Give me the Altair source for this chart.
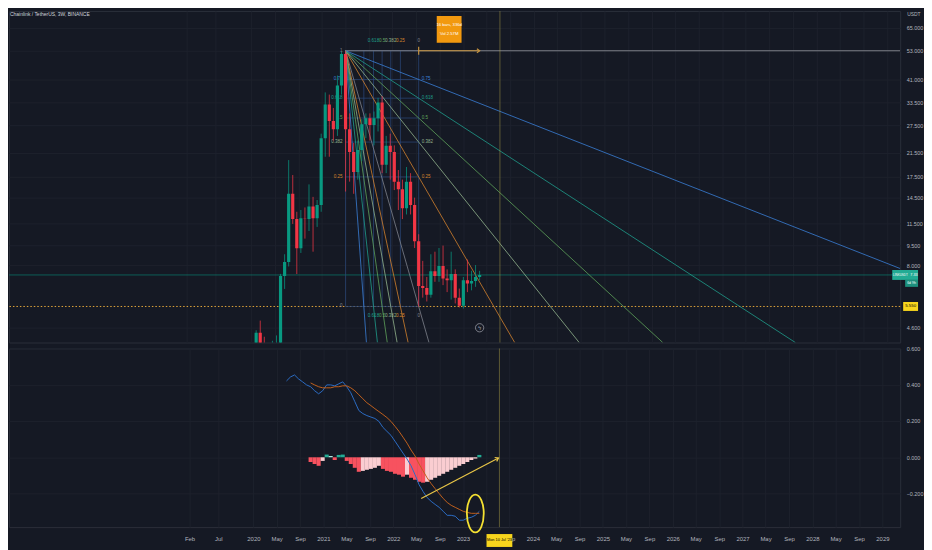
import math
import altair as alt
import pandas as pd

# ---------------- chart values ----------------
symbol_title = "Chainlink / TetherUS, 3W, BINANCE"
currency_label = "USDT"
ticker_label = "LINKUSDT"
countdown_label = "6d 9h"
last_bar = "2023-03-27"
bar_days = 21

opens = [2.30, 4.40, 3.90, 2.30, 3.40, 3.90, 4.00, 7.26, 8.21, 15.0, 12.0, 9.27, 12.1, 12.0, 13.4, 12.1,
         13.6, 24.5, 33.0, 28.5, 26.5, 39.0, 51.5, 26.5, 21.7, 18.2, 22.1, 27.7, 29.2, 27.5, 29.2, 33.6,
         19.4, 22.9, 21.7, 16.7, 15.6, 13.2, 16.7, 13.6, 9.86, 6.65, 6.53, 6.15, 7.58, 7.26, 7.93, 7.1,
         7.0, 7.39, 6.0, 5.58, 7.0, 6.8, 6.95, 7.2]
highs = [4.50, 4.90, 4.25, 3.60, 4.10, 4.30, 7.40, 8.80, 20.2, 17.7, 12.8, 13.0, 13.3, 16.3, 14.6, 14.2,
         25.5, 36.7, 36.0, 32.0, 42.6, 52.6, 53.0, 30.5, 23.5, 24.0, 29.0, 30.5, 30.5, 31.0, 35.0, 35.5,
         25.0, 25.5, 23.0, 18.5, 17.0, 19.0, 18.0, 14.5, 10.5, 8.3, 7.2, 8.8, 9.0, 9.3, 9.5, 7.7,
         9.0, 7.7, 6.5, 7.2, 8.4, 7.6, 8.0, 7.6]
lows = [2.20, 3.50, 1.50, 2.10, 3.20, 3.60, 3.90, 6.48, 7.90, 11.5, 7.39, 8.9, 10.1, 10.8, 9.0, 11.2,
        12.8, 20.8, 20.8, 24.0, 25.0, 36.0, 15.3, 16.7, 15.0, 17.0, 20.0, 24.5, 24.0, 23.0, 26.0, 18.0,
        18.0, 17.0, 15.5, 13.0, 12.0, 12.5, 12.5, 9.3, 5.55, 6.0, 5.8, 6.0, 6.9, 6.9, 6.7, 6.3,
        5.9, 5.7, 5.5, 5.45, 6.3, 6.4, 6.6, 7.0]
closes = [4.40, 3.90, 2.30, 3.40, 3.90, 4.00, 7.26, 8.21, 15.0, 12.0, 9.27, 12.1, 12.05, 13.4, 12.1, 13.6,
          24.5, 33.0, 28.5, 26.5, 39.0, 51.5, 26.5, 21.7, 18.2, 22.1, 27.7, 29.2, 27.5, 29.2, 33.6, 19.4,
          22.9, 21.7, 16.7, 15.6, 13.2, 16.7, 13.6, 9.86, 6.65, 6.53, 6.15, 7.58, 7.26, 7.93, 7.1, 7.0,
          7.39, 6.0, 5.58, 7.0, 6.8, 6.95, 7.2, 7.33]

macd_line = [None] * 7 + [
    0.421, 0.443, 0.454, 0.432, 0.416, 0.399, 0.389, 0.367, 0.350, 0.367, 0.399, 0.399, 0.394, 0.405,
    0.416, 0.389, 0.356, 0.307, 0.258, 0.241, 0.230, 0.222, 0.214, 0.198, 0.165, 0.143, 0.121, 0.089,
    0.056, 0.023, -0.009, -0.047, -0.096, -0.151, -0.189, -0.222, -0.243, -0.260, -0.276, -0.298,
    -0.320, -0.320, -0.325, -0.347, -0.347, -0.336, -0.331, -0.320, -0.298]
signal_line = [None] * 13 + [
    0.410, 0.399, 0.389, 0.383, 0.383, 0.383, 0.389, 0.389, 0.394, 0.394, 0.383, 0.367, 0.345, 0.323,
    0.301, 0.285, 0.268, 0.252, 0.236, 0.219, 0.198, 0.171, 0.143, 0.111, 0.078, 0.040, 0.007, -0.037,
    -0.075, -0.113, -0.145, -0.173, -0.200, -0.227, -0.249, -0.265, -0.276, -0.287, -0.298, -0.304,
    -0.309, -0.309, -0.309]
hist_values = [None] * 13 + [
    -0.026, -0.037, -0.047, -0.020, 0.015, 0.007, -0.015, 0.013, 0.015, -0.020, -0.037, -0.058, -0.080,
    -0.075, -0.069, -0.064, -0.058, -0.047, -0.064, -0.075, -0.080, -0.091, -0.096, -0.107, -0.096,
    -0.113, -0.124, -0.135, -0.140, -0.135, -0.124, -0.113, -0.102, -0.091, -0.080, -0.069, -0.058,
    -0.047, -0.037, -0.026, -0.015, -0.007, 0.013]

price_ticks = [4.6, 8.0, 9.5, 11.5, 14.5, 17.5, 21.5, 27.5, 33.5, 41.0, 53.0, 65.0]
macd_ticks = [-0.4, -0.2, 0.0, 0.2, 0.4, 0.6]
time_ticks = ["2019-02-01", "2019-07-01"] + [f"{y}-{m}-01" for y in range(2020, 2030) for m in ("01", "05", "09")]
hidden_time_label = "2023-05-01"   # covered by the crosshair date label

fib_levels = [0.25, 0.382, 0.5, 0.618, 0.75]
fib_names = ["0.25", "0.382", "0.5", "0.618", "0.75"]
fan_low_bars_from_end = 15

last_price = 7.33
icon_price = 4.6
marker_date = "2023-07-10"
marker_text = "Mon 10 Jul '23"
range_texts = ["16 bars, 336d", "Vol 2.57M"]
range_box_price = 64.0
arrow_start = ("2022-05-27", -0.227)
arrow_end = ("2023-07-05", -0.004)
ellipse_value = -0.31

# ---------------- style / layout ----------------
FONT = "Liberation Sans Narrow, Liberation Sans, Arial, sans-serif"
BG = "#151924"
GRID = "#1d212c"
TXT = "#b2b5be"
UP = "#089981"
DN = "#f23645"
W, H_TOP, H_MACD = 898, 334, 180
PX_PER_DAY = 71.2 / 365.25
PX_PER_LN = 114.2
MACD_DOMAIN = [-0.385, 0.6]
MACD_PX = H_MACD / (MACD_DOMAIN[1] - MACD_DOMAIN[0])


def ms(ts):
    return int(pd.Timestamp(ts).value // 10**6)


def days(a, b):
    return (pd.Timestamp(b) - pd.Timestamp(a)).total_seconds() / 86400.0


def rect_path(w, h):
    r = max(w, h) / 2.0
    a, b = w / 2.0 / r, h / 2.0 / r
    return f"M{-a:.4f},{-b:.4f}H{a:.4f}V{b:.4f}H{-a:.4f}Z", (2 * r) ** 2


def ellipse_path(rx, ry):
    r = max(rx, ry)
    a, b = rx / r, ry / r
    return f"M{-a:.4f},0A{a:.4f},{b:.4f} 0 1,0 {a:.4f},0A{a:.4f},{b:.4f} 0 1,0 {-a:.4f},0Z", (2 * r) ** 2


n = len(opens)
bar_dates = [pd.Timestamp(last_bar) - pd.Timedelta(days=bar_days * (n - 1 - i)) for i in range(n)]

x0 = pd.Timestamp("2020-01-01") - pd.Timedelta(days=244 / PX_PER_DAY)
x1 = x0 + pd.Timedelta(days=W / PX_PER_DAY)
X_DOMAIN = [ms(x0), ms(x1)]
P_MAX = 53.0 * math.exp(40 / PX_PER_LN)
P_MIN = 53.0 * math.exp((40 - H_TOP) / PX_PER_LN)

tick_vals = [ms(t) for t in time_ticks if pd.Timestamp(t) <= x1]
hidden_ms = ms(hidden_time_label)

xs = alt.Scale(type="utc", domain=X_DOMAIN, nice=False)
ys = alt.Scale(type="log", domain=[P_MIN, P_MAX], nice=False)
ms_scale = alt.Scale(domain=MACD_DOMAIN, nice=False, zero=False)

X_AX_TOP = alt.Axis(values=tick_vals, labels=False, ticks=False, domain=False, grid=True,
                    gridColor=GRID, title=None)
X_AX_BOT = alt.Axis(values=tick_vals, ticks=False, domain=False, grid=True, gridColor=GRID, title=None,
                    labelExpr=(f"+datum.value == {hidden_ms} ? '' : "
                               "(utcFormat(datum.value, '%m') == '01' ? utcFormat(datum.value, '%Y') "
                               ": utcFormat(datum.value, '%b'))"),
                    labelColor=TXT, labelFontSize=6, labelPadding=9, labelFont=FONT)
Y_AX_PRICE = alt.Axis(orient="right", values=price_ticks, format=".3f", grid=True, gridColor=GRID,
                      ticks=False, domain=False, labelColor=TXT, labelFontSize=5.5, labelPadding=6,
                      labelFont=FONT, title=None)
Y_AX_MACD = alt.Axis(orient="right", values=macd_ticks, format=".3f", grid=True, gridColor=GRID,
                     ticks=False, domain=False, labelColor=TXT, labelFontSize=5.5, labelPadding=6,
                     labelFont=FONT, title=None)


def tx(f):
    return alt.X(f, type="temporal", scale=xs, axis=X_AX_TOP)


def ty(f):
    return alt.Y(f, type="quantitative", scale=ys, axis=Y_AX_PRICE)


def bx(f):
    return alt.X(f, type="temporal", scale=xs, axis=X_AX_BOT)


def by(f):
    return alt.Y(f, type="quantitative", scale=ms_scale, axis=Y_AX_MACD)


# ---------------- candles ----------------
cdf = pd.DataFrame({
    "date": [ms(d) for d in bar_dates], "open": opens, "high": highs, "low": lows, "close": closes,
})
cdf["dir"] = ["up" if c >= o else "down" for o, c in zip(opens, closes)]
dir_color = alt.Color("dir:N", scale=alt.Scale(domain=["up", "down"], range=[UP, DN]), legend=None)

wicks = alt.Chart(cdf).mark_rule(clip=True, strokeWidth=1, opacity=0.75).encode(
    x=tx("date"), y=ty("low"), y2="high", color=dir_color)
bodies = alt.Chart(cdf).mark_rule(clip=True, strokeWidth=3.2).encode(
    x=tx("date"), y=ty("open"), y2="close", color=dir_color)
candles = alt.layer(wicks, bodies)

# ---------------- fib speed fan ----------------
i_hi = highs.index(max(highs))
i_lo = n - 1 - fan_low_bars_from_end
t0, p_hi = bar_dates[i_hi], highs[i_hi]
t1, p_lo = bar_dates[i_lo], lows[i_lo]
span = days(t0, t1)
lnh, lnl, lnmin = math.log(p_hi), math.log(p_lo), math.log(P_MIN)
d_max = days(t0, x1)

lvl_domain = ["0", "0.25", "0.382", "0.5", "0.618", "0.75", "1"]
lvl_range = ["#80838d", "#d4822d", "#93b38e", "#5fa35b", "#1f9e8c", "#3a7fd8", "#80838d"]
lvl_color = alt.Color("lvl:N", scale=alt.Scale(domain=lvl_domain, range=lvl_range), legend=None)

fan_rows = []
for name, f in zip(["0"] + fib_names, [0.0] + fib_levels):
    pf = p_lo + f * (p_hi - p_lo)
    slope = (math.log(pf) - lnh) / span
    d_end = min((lnmin - lnh) / slope, d_max)
    fan_rows.append(dict(ta=ms(t0), pa=p_hi, tb=ms(t0 + pd.Timedelta(days=d_end)),
                         pb=math.exp(lnh + slope * d_end), lvl=name))
for name, f in zip(fib_names, fib_levels):
    tf = span * (1 - f)
    slope = (lnl - lnh) / tf
    d_end = min((lnmin - lnh) / slope, d_max)
    fan_rows.append(dict(ta=ms(t0), pa=p_hi, tb=ms(t0 + pd.Timedelta(days=d_end)),
                         pb=math.exp(lnh + slope * d_end), lvl=name))
fan_df = pd.DataFrame(fan_rows)
fan_lines = alt.Chart(fan_df).mark_rule(clip=True, strokeWidth=1, opacity=0.8).encode(
    x=tx("ta"), x2="tb", y=ty("pa"), y2="pb", color=lvl_color)

all_f = [0.0] + fib_levels + [1.0]
all_names = ["0"] + fib_names + ["1"]
grid_rows = []
for f in all_f:
    pf = p_lo + f * (p_hi - p_lo)
    grid_rows.append(dict(ta=ms(t0), tb=ms(t1), pa=pf, pb=pf))
for f in all_f:
    tf = t0 + pd.Timedelta(days=span * (1 - f))
    grid_rows.append(dict(ta=ms(tf), tb=ms(tf), pa=p_lo, pb=p_hi))
fan_grid = alt.Chart(pd.DataFrame(grid_rows)).mark_rule(clip=True, strokeWidth=1, color="#2a4677",
                                                         opacity=0.75).encode(
    x=tx("ta"), x2="tb", y=ty("pa"), y2="pb")

left_lab = pd.DataFrame({"t": ms(t0), "p": [p_lo + f * (p_hi - p_lo) for f in all_f], "lvl": all_names})
right_lab = pd.DataFrame({"t": ms(t1), "p": [p_lo + f * (p_hi - p_lo) for f in fib_levels], "lvl": fib_names})
tl_f = [0.0, 0.25, 0.382, 0.5, 0.618]
tl_names = ["0", "0.25", "0.382", "0.5", "0.618"]
time_lab = pd.DataFrame({"t": [ms(t0 + pd.Timedelta(days=span * (1 - f))) for f in tl_f], "lvl": tl_names})
time_lab["phi"] = p_hi
time_lab["plo"] = p_lo

lab_kw = dict(fontSize=4.6, font=FONT, baseline="middle")
fan_lab_left = alt.Chart(left_lab).mark_text(align="right", dx=-3, **lab_kw).encode(
    x=tx("t"), y=ty("p"), text="lvl:N", color=lvl_color)
fan_lab_right = alt.Chart(right_lab).mark_text(align="left", dx=3, **lab_kw).encode(
    x=tx("t"), y=ty("p"), text="lvl:N", color=lvl_color)
fan_lab_top = alt.Chart(time_lab).mark_text(align="center", dy=-10, **lab_kw).encode(
    x=tx("t"), y=ty("phi"), text="lvl:N", color=lvl_color)
fan_lab_bot = alt.Chart(time_lab).mark_text(align="center", dy=10, **lab_kw).encode(
    x=tx("t"), y=ty("plo"), text="lvl:N", color=lvl_color)
fan = alt.layer(fan_lines, fan_lab_left, fan_lab_right, fan_lab_top, fan_lab_bot)

# ---------------- horizontal lines ----------------
price_line = alt.Chart(pd.DataFrame({"p": [last_price]})).mark_rule(
    color=UP, opacity=0.55, strokeWidth=1).encode(y=ty("p"))
support_line = alt.Chart(pd.DataFrame({"p": [p_lo]})).mark_rule(
    color="#e0a43a", strokeDash=[1.5, 2], strokeWidth=1).encode(y=ty("p"))
ath_line = alt.Chart(pd.DataFrame({"ta": [ms(t0)], "tb": [X_DOMAIN[1]], "p": [p_hi]})).mark_rule(
    color="#7d7f87", strokeWidth=1.2, clip=True).encode(x=tx("ta"), x2="tb", y=ty("p"))

# ---------------- date range tool ----------------
rng = pd.DataFrame({"ta": [ms(t1)], "tb": [ms(bar_dates[-1])], "p": [p_hi]})
range_rule = alt.Chart(rng).mark_rule(color="#c4923f", strokeWidth=1.2).encode(
    x=tx("ta"), x2="tb", y=ty("p"))
range_start = alt.Chart(rng).mark_point(shape="M0,-1L0,1", size=64, filled=False, color="#c4923f",
                                        strokeWidth=1.2, opacity=1).encode(x=tx("ta"), y=ty("p"))
range_head = alt.Chart(rng).mark_point(shape="M-1,-0.7L0,0L-1,0.7", size=30, filled=False, color="#c4923f",
                                       strokeWidth=1.2, opacity=1).encode(x=tx("tb"), y=ty("p"))
mid_t = t1 + (bar_dates[-1] - t1) / 2
rbox_path, rbox_size = rect_path(25, 27)
rbox_df = pd.DataFrame({"t": [ms(mid_t)], "p": [range_box_price]})
range_box = alt.Chart(rbox_df).mark_point(shape=rbox_path, size=rbox_size, filled=True, color="#f2990f",
                                          opacity=1).encode(x=tx("t"), y=ty("p"))
range_t1 = alt.Chart(rbox_df).mark_text(text=range_texts[0], dy=-4.5, fontSize=4.2, font=FONT,
                                        color="#ffffff").encode(x=tx("t"), y=ty("p"))
range_t2 = alt.Chart(rbox_df).mark_text(text=range_texts[1], dy=4.5, fontSize=4.2, font=FONT,
                                        color="#ffffff").encode(x=tx("t"), y=ty("p"))

# ---------------- marker / icon / texts ----------------
mk_df = pd.DataFrame({"t": [ms(marker_date)]})
marker_top = alt.Chart(mk_df).mark_rule(color="#b8a94a", opacity=0.45, strokeWidth=1).encode(x=tx("t"))

icon_df = pd.DataFrame({"t": [ms(bar_dates[-1])], "p": [icon_price]})
icon = alt.Chart(icon_df).mark_point(shape="circle", size=70, filled=False, color="#9598a1",
                                     strokeWidth=0.8, opacity=1).encode(x=tx("t"), y=ty("p"))
icon_txt = alt.Chart(icon_df).mark_text(text="ϟ", fontSize=6, color="#9598a1").encode(x=tx("t"), y=ty("p"))

title_txt = alt.Chart(pd.DataFrame({"a": [0]})).mark_text(
    text=symbol_title, align="left", baseline="top", fontSize=5, font=FONT, color="#d1d4dc").encode(
    x=alt.value(1), y=alt.value(1))
usdt_txt = alt.Chart(pd.DataFrame({"a": [0]})).mark_text(
    text=currency_label, align="left", baseline="top", fontSize=5, font=FONT, color=TXT).encode(
    x=alt.value(905), y=alt.value(1))

lp_df = pd.DataFrame({"p": [last_price]})
tbox_path, tbox_size = rect_path(26, 10)
tbox2_path, tbox2_size = rect_path(13, 7)
teal_box = alt.Chart(lp_df).mark_point(shape=tbox_path, size=tbox_size, filled=True, color="#22ab94",
                                       opacity=1).encode(x=alt.value(903), y=ty("p"))
teal_box2 = alt.Chart(lp_df).mark_point(shape=tbox2_path, size=tbox2_size, filled=True, color="#1d8f7d",
                                        opacity=1, yOffset=8.5).encode(x=alt.value(909.5), y=ty("p"))
teal_t1 = alt.Chart(lp_df).mark_text(text=ticker_label, align="left", fontSize=3.0, font=FONT,
                                     color="#ffffff").encode(x=alt.value(890.8), y=ty("p"))
teal_t2 = alt.Chart(lp_df).mark_text(align="right", fontSize=3.8, font=FONT, color="#ffffff").encode(
    x=alt.value(915.6), y=ty("p"), text=alt.Text("p:Q", format=".2f"))
teal_t3 = alt.Chart(lp_df).mark_text(text=countdown_label, align="center", fontSize=3.6, font=FONT,
                                     color="#ffffff", dy=8.5).encode(x=alt.value(909.5), y=ty("p"))

sp_df = pd.DataFrame({"p": [p_lo]})
ybox_path, ybox_size = rect_path(15, 9)
yellow_box = alt.Chart(sp_df).mark_point(shape=ybox_path, size=ybox_size, filled=True, color="#f7d51d",
                                         opacity=1).encode(x=alt.value(908.5), y=ty("p"))
yellow_t = alt.Chart(sp_df).mark_text(fontSize=4.4, font=FONT, color="#000000").encode(
    x=alt.value(908.5), y=ty("p"), text=alt.Text("p:Q", format=".3f"))

top = alt.layer(
    price_line, support_line, fan_grid, ath_line, fan, marker_top, candles,
    range_rule, range_start, range_head, range_box, range_t1, range_t2,
    icon, icon_txt, title_txt, usdt_txt,
    teal_box, teal_box2, teal_t1, teal_t2, teal_t3, yellow_box, yellow_t,
).resolve_scale(color="independent").properties(width=W, height=H_TOP)

# ---------------- MACD pane ----------------
mdf = pd.DataFrame({"date": [ms(d) for d in bar_dates], "macd": macd_line, "sig": signal_line,
                    "hist": hist_values})
states = []
prev = None
for v in hist_values:
    if v is None:
        states.append(None)
        continue
    if v >= 0:
        states.append("t" if prev is None or v >= prev else "lt")
    else:
        states.append("r" if prev is None or v < prev else "p")
    prev = v
mdf["state"] = states

hist = alt.Chart(mdf.dropna(subset=["hist"])).mark_bar(size=4.1).encode(
    x=bx("date"), y=by("hist"),
    color=alt.Color("state:N", scale=alt.Scale(domain=["r", "p", "t", "lt"],
                                               range=["#f7525f", "#facdd1", "#22ab94", "#ace5dc"]),
                    legend=None))
macd_l = alt.Chart(mdf.dropna(subset=["macd"])).mark_line(color="#2b6cc4", strokeWidth=1).encode(
    x=bx("date"), y=by("macd"))
sig_l = alt.Chart(mdf.dropna(subset=["sig"])).mark_line(color="#c0601d", strokeWidth=1).encode(
    x=bx("date"), y=by("sig"))

marker_bot = alt.Chart(mk_df).mark_rule(color="#b8a94a", opacity=0.45, strokeWidth=1).encode(x=bx("t"))

ell_path, ell_size = ellipse_path(8.5, 19)
ell_df = pd.DataFrame({"t": [ms(bar_dates[-2])], "v": [ellipse_value]})
ellipse = alt.Chart(ell_df).mark_point(shape=ell_path, size=ell_size, filled=False, color="#f5e132",
                                       strokeWidth=1.8, opacity=1).encode(x=bx("t"), y=by("v"))

arr_df = pd.DataFrame({"ta": [ms(arrow_start[0])], "va": [arrow_start[1]],
                       "tb": [ms(arrow_end[0])], "vb": [arrow_end[1]]})
arr_dx = days(arrow_start[0], arrow_end[0]) * PX_PER_DAY
arr_dy = -(arrow_end[1] - arrow_start[1]) * MACD_PX
arr_angle = math.degrees(math.atan2(arr_dy, arr_dx)) % 360
arrow_line = alt.Chart(arr_df).mark_rule(color="#e8c547", strokeWidth=1.2).encode(
    x=bx("ta"), x2="tb", y=by("va"), y2="vb")
arrow_head = alt.Chart(arr_df).mark_point(shape="M-1,-0.7L0,0L-1,0.7", size=40, filled=False,
                                          color="#e8c547", strokeWidth=1.2, opacity=1,
                                          angle=arr_angle).encode(x=bx("tb"), y=by("vb"))

dbox_path, dbox_size = rect_path(26, 13)
date_box = alt.Chart(mk_df).mark_point(shape=dbox_path, size=dbox_size, filled=True, color="#f7d51d",
                                       opacity=1).encode(x=bx("t"), y=alt.value(H_MACD + 13.5))
date_txt = alt.Chart(mk_df).mark_text(text=marker_text, fontSize=3.9, font=FONT, color="#000000").encode(
    x=bx("t"), y=alt.value(H_MACD + 13.5))

bottom = alt.layer(
    marker_bot, hist, macd_l, sig_l, arrow_line, arrow_head, ellipse, date_box, date_txt,
).resolve_scale(color="independent").properties(width=W, height=H_MACD)

chart = alt.vconcat(top, bottom, spacing=2, padding=0, background=BG).resolve_scale(
    color="independent"
).configure_view(
    stroke="#2a2e39", strokeWidth=1
).configure_text(font=FONT)

chart.save("out.html", embed_options={"renderer": "svg", "actions": False})
